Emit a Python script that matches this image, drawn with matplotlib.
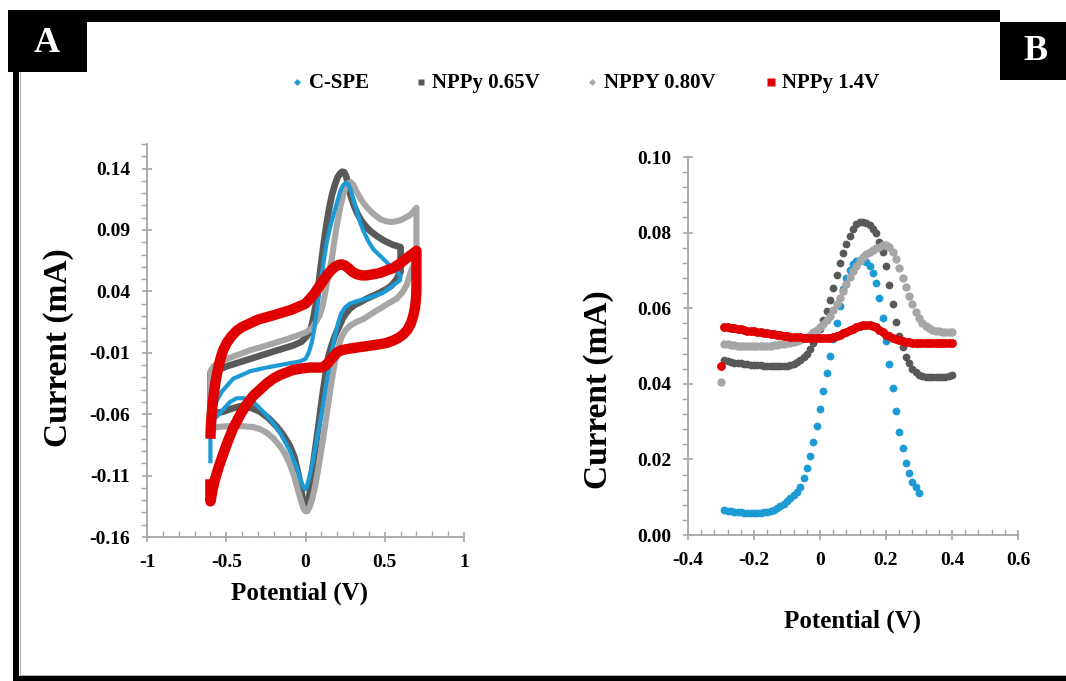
import matplotlib
matplotlib.use("Agg")
import matplotlib.pyplot as plt
from matplotlib.patches import Rectangle
from matplotlib.lines import Line2D

# ---------------- data ----------------
series_names = ["C-SPE", "NPPy 0.65V", "NPPY 0.80V", "NPPy 1.4V"]
series_colors = ["#1b9ad6", "#595959", "#a6a6a6", "#e00000"]

# Panel A: cyclic voltammograms (potential V, current mA)
cv_cspe_x = [-0.60, -0.60, -0.594, -0.58, -0.56, -0.53, -0.49, -0.455, -0.40, -0.35, -0.245, -0.119,
             -0.035, 0.0, 0.02, 0.039, 0.055, 0.070, 0.086, 0.102, 0.118, 0.134, 0.155, 0.176, 0.198,
             0.218, 0.235, 0.25, 0.265, 0.281, 0.30, 0.323, 0.345, 0.37, 0.40, 0.43, 0.47, 0.51, 0.555,
             0.60,
             0.596, 0.554, 0.491, 0.407, 0.323, 0.280, 0.250, 0.225, 0.205, 0.186, 0.168, 0.150, 0.128,
             0.106, 0.084, 0.064, 0.043, 0.024, 0.010, 0.002, -0.010, -0.024, -0.040, -0.056, -0.077,
             -0.098, -0.140, -0.161, -0.20, -0.245, -0.29, -0.329, -0.36, -0.392, -0.434, -0.476,
             -0.518, -0.56, -0.592, -0.60]
cv_cspe_y = [-0.100, -0.081, -0.066, -0.056, -0.049, -0.042, -0.036, -0.031, -0.028, -0.025, -0.022,
             -0.019, -0.017, -0.015, -0.010, -0.002, 0.009, 0.023, 0.038, 0.053, 0.067, 0.080, 0.092,
             0.102, 0.112, 0.121, 0.126, 0.128, 0.128, 0.124, 0.116, 0.106, 0.096, 0.088, 0.080, 0.074,
             0.069, 0.064, 0.058, 0.053,
             0.049, 0.045, 0.039, 0.035, 0.032, 0.030, 0.027, 0.022, 0.014, 0.004, -0.008, -0.021,
             -0.038, -0.056, -0.072, -0.086, -0.100, -0.111, -0.118, -0.121, -0.120, -0.116, -0.110,
             -0.103, -0.097, -0.090, -0.080, -0.075, -0.068, -0.061, -0.055, -0.050, -0.048, -0.047,
             -0.047, -0.050, -0.056, -0.062, -0.066, -0.068]

cv_065_x = [-0.60, -0.60, -0.582, -0.497, -0.35, -0.203, -0.077, -0.025, 0.005, 0.025, 0.039, 0.052,
            0.066, 0.078, 0.091, 0.104, 0.117, 0.133, 0.150, 0.168, 0.186, 0.203, 0.218, 0.232, 0.245,
            0.258, 0.272, 0.287, 0.305, 0.325, 0.350, 0.38, 0.41, 0.45, 0.50, 0.55, 0.60,
            0.60, 0.575, 0.545, 0.512, 0.470, 0.428, 0.385, 0.344, 0.310, 0.281, 0.255, 0.235, 0.218,
            0.200, 0.186, 0.165, 0.144, 0.128, 0.112, 0.096, 0.081, 0.065, 0.049, 0.036, 0.024, 0.012,
            0.003, -0.010, -0.020, -0.035, -0.05, -0.070, -0.098, -0.140, -0.182, -0.235, -0.287,
            -0.340, -0.392, -0.455, -0.520, -0.560, -0.592, -0.60]
cv_065_y = [-0.055, -0.027, -0.026, -0.021, -0.015, -0.009, -0.004, -0.001, 0.003, 0.007, 0.012, 0.020,
            0.030, 0.041, 0.055, 0.068, 0.081, 0.095, 0.108, 0.119, 0.127, 0.133, 0.136, 0.1375, 0.137,
            0.133, 0.125, 0.117, 0.110, 0.104, 0.098, 0.093, 0.089, 0.085, 0.081, 0.078, 0.076,
            0.056, 0.050, 0.045, 0.042, 0.039, 0.0365, 0.034, 0.031, 0.029, 0.026, 0.022, 0.018, 0.013,
            0.008, 0.004, -0.004, -0.013, -0.026, -0.040, -0.055, -0.070, -0.085, -0.100, -0.114,
            -0.127, -0.134, -0.136, -0.133, -0.127, -0.115, -0.106, -0.095, -0.086, -0.077, -0.070,
            -0.063, -0.058, -0.055, -0.053, -0.055, -0.058, -0.059, -0.056, -0.055]

cv_080_x = [-0.60, -0.60, -0.58, -0.55, -0.455, -0.35, -0.245, -0.12, -0.03, 0.007, 0.04, 0.065, 0.091,
            0.108, 0.12, 0.134, 0.150, 0.165, 0.181, 0.197, 0.218, 0.239, 0.255, 0.270, 0.285, 0.300,
            0.323, 0.345, 0.365, 0.39, 0.42, 0.470, 0.51, 0.54, 0.57, 0.60, 0.63, 0.659, 0.68, 0.700,
            0.700, 0.685, 0.670, 0.655, 0.638, 0.61, 0.575, 0.52, 0.470, 0.42, 0.365, 0.32, 0.281,
            0.25, 0.225, 0.205, 0.185, 0.165, 0.145, 0.125, 0.105, 0.085, 0.065, 0.045, 0.028, 0.012,
            0.0, -0.012, -0.025, -0.045, -0.07, -0.098, -0.13, -0.161, -0.20, -0.245, -0.29, -0.329,
            -0.40, -0.455, -0.52, -0.582, -0.60]
cv_080_y = [-0.070, -0.025, -0.021, -0.018, -0.013, -0.008, -0.004, 0.001, 0.005, 0.007, 0.010, 0.015,
            0.021, 0.028, 0.036, 0.046, 0.056, 0.066, 0.080, 0.093, 0.108, 0.119, 0.125, 0.128, 0.129,
            0.127, 0.121, 0.116, 0.112, 0.108, 0.104, 0.099, 0.097, 0.0965, 0.097, 0.098, 0.100, 0.102,
            0.105, 0.108,
            0.066, 0.062, 0.058, 0.052, 0.045, 0.039, 0.034, 0.030, 0.026, 0.022, 0.0175, 0.015, 0.012,
            0.008, 0.002, -0.006, -0.018, -0.033, -0.050, -0.068, -0.085, -0.101, -0.116, -0.128,
            -0.135, -0.139, -0.139, -0.137, -0.132, -0.123, -0.111, -0.101, -0.092, -0.086, -0.080,
            -0.075, -0.072, -0.0705, -0.0697, -0.0697, -0.070, -0.071, -0.070]

cv_14_x = [-0.60, -0.597, -0.592, -0.586, -0.578, -0.568, -0.555, -0.539, -0.52, -0.497, -0.47, -0.434,
           -0.40, -0.350, -0.30, -0.245, -0.19, -0.140, -0.09, -0.035, 0.0, 0.028, 0.055, 0.081, 0.108,
           0.134, 0.160, 0.186, 0.207, 0.228, 0.250, 0.270, 0.295, 0.323, 0.355, 0.386, 0.43, 0.470,
           0.51, 0.554, 0.60, 0.638, 0.67, 0.700,
           0.700, 0.697, 0.691, 0.680, 0.665, 0.645, 0.617, 0.585, 0.554, 0.51, 0.470, 0.42, 0.365,
           0.31, 0.260, 0.225, 0.197, 0.17, 0.144, 0.12, 0.102, 0.06, 0.028, -0.035, -0.08, -0.119,
           -0.16, -0.203, -0.245, -0.287, -0.33, -0.371, -0.41, -0.455, -0.49, -0.518, -0.545, -0.571,
           -0.587, -0.596, -0.60, -0.60]
cv_14_y = [-0.080, -0.070, -0.060, -0.052, -0.043, -0.034, -0.025, -0.016, -0.008, -0.002, 0.003, 0.008,
           0.011, 0.014, 0.017, 0.019, 0.021, 0.023, 0.025, 0.028, 0.030, 0.034, 0.038, 0.043, 0.048,
           0.053, 0.057, 0.060, 0.0615, 0.062, 0.061, 0.059, 0.056, 0.054, 0.053, 0.053, 0.054, 0.055,
           0.057, 0.059, 0.063, 0.067, 0.070, 0.073,
           0.042, 0.034, 0.027, 0.020, 0.014, 0.009, 0.005, 0.002, 0.000, -0.002, -0.003, -0.004,
           -0.005, -0.006, -0.007, -0.008, -0.010, -0.014, -0.018, -0.021, -0.022, -0.022, -0.022,
           -0.023, -0.024, -0.026, -0.028, -0.031, -0.035, -0.040, -0.045, -0.052, -0.060, -0.071,
           -0.082, -0.092, -0.102, -0.113, -0.122, -0.129, -0.131, -0.113]

# Panel B: differential pulse voltammograms
dpv_potential = [-0.30, -0.29, -0.28, -0.27, -0.26, -0.25, -0.24, -0.23, -0.22, -0.21, -0.20,
                 -0.19, -0.18, -0.17, -0.16, -0.15, -0.14, -0.13, -0.12, -0.11, -0.10,
                 -0.09, -0.08, -0.07, -0.06, -0.05, -0.04, -0.03, -0.02, -0.01, 0.00,
                 0.01, 0.02, 0.03, 0.04, 0.05, 0.06, 0.07, 0.08, 0.09, 0.10,
                 0.11, 0.12, 0.13, 0.14, 0.15, 0.16, 0.17, 0.18, 0.19, 0.20,
                 0.21, 0.22, 0.23, 0.24, 0.25, 0.26, 0.27, 0.28, 0.29, 0.30,
                 0.31, 0.32, 0.33, 0.34, 0.35, 0.36, 0.37, 0.38, 0.39, 0.40]

# C-SPE: -0.29 .. 0.30
dpv_cspe = [0.0066, 0.0064, 0.0063, 0.0062, 0.0061, 0.0060, 0.0059, 0.0058, 0.0058, 0.0058,
            0.0058, 0.0059, 0.0060, 0.0062, 0.0064, 0.0067, 0.0071, 0.0076, 0.0083, 0.0090,
            0.0098, 0.0106, 0.0115, 0.0128, 0.0150, 0.0176, 0.0210, 0.0245, 0.0288, 0.0333,
            0.0381, 0.0429, 0.0474, 0.0518, 0.0562, 0.0606, 0.0650, 0.0680, 0.0700, 0.0717,
            0.0725, 0.0728, 0.0727, 0.0723, 0.0711, 0.0692, 0.0666, 0.0626, 0.0574, 0.0513,
            0.0452, 0.0390, 0.0328, 0.0273, 0.0229, 0.0191, 0.0163, 0.0141, 0.0126, 0.0110]

# NPPy 0.65V: -0.29 .. 0.40
dpv_065 = [0.0463, 0.0460, 0.0458, 0.0456, 0.0455, 0.0454, 0.0453, 0.0452, 0.0451, 0.0450,
           0.0450, 0.0449, 0.0448, 0.0448, 0.0447, 0.0447, 0.0446, 0.0446, 0.0446, 0.0447,
           0.0449, 0.0452, 0.0457, 0.0464, 0.0472, 0.0480, 0.0492, 0.0507, 0.0524, 0.0545,
           0.0568, 0.0593, 0.0622, 0.0654, 0.0688, 0.0719, 0.0745, 0.0769, 0.0791, 0.0810,
           0.0822, 0.0828, 0.0829, 0.0826, 0.0820, 0.0810, 0.0798, 0.0776, 0.0749, 0.0712,
           0.0661, 0.0610, 0.0564, 0.0526, 0.0498, 0.0472, 0.0454, 0.0440, 0.0430, 0.0424,
           0.0420, 0.0418, 0.0417, 0.0417, 0.0417, 0.0417, 0.0418, 0.0419, 0.0420, 0.0422]

# NPPY 0.80V: -0.30 .. 0.40
dpv_080 = [0.0404, 0.0505, 0.0504, 0.0503, 0.0502, 0.0501, 0.0500, 0.0500, 0.0499, 0.0499, 0.0499,
           0.0499, 0.0499, 0.0500, 0.0500, 0.0501, 0.0502, 0.0503, 0.0504, 0.0506, 0.0507,
           0.0509, 0.0511, 0.0513, 0.0516, 0.0520, 0.0525, 0.0530, 0.0536, 0.0542, 0.0549,
           0.0558, 0.0568, 0.0580, 0.0595, 0.0610, 0.0626, 0.0645, 0.0665, 0.0683, 0.0698,
           0.0712, 0.0725, 0.0735, 0.0743, 0.0750, 0.0755, 0.0759, 0.0763, 0.0766, 0.0767,
           0.0762, 0.0750, 0.0730, 0.0706, 0.0681, 0.0655, 0.0631, 0.0610, 0.0591, 0.0574,
           0.0562, 0.0553, 0.0547, 0.0543, 0.0541, 0.0539, 0.0538, 0.0537, 0.0537, 0.0537]

# NPPy 1.4V: -0.30 .. 0.40
dpv_14 = [0.0447, 0.0551, 0.0550, 0.0548, 0.0547, 0.0545, 0.0544, 0.0543, 0.0541, 0.0540, 0.0539,
          0.0537, 0.0536, 0.0535, 0.0534, 0.0532, 0.0531, 0.0530, 0.0529, 0.0527, 0.0526,
          0.0525, 0.0524, 0.0523, 0.0523, 0.0522, 0.0521, 0.0521, 0.0520, 0.0520, 0.0520,
          0.0520, 0.0520, 0.0521, 0.0523, 0.0526, 0.0529, 0.0534, 0.0538, 0.0542, 0.0545,
          0.0549, 0.0552, 0.0555, 0.0556, 0.0555, 0.0553, 0.0549, 0.0543, 0.0536, 0.0530,
          0.0526, 0.0522, 0.0518, 0.0515, 0.0512, 0.0511, 0.0510, 0.0509, 0.0508, 0.0508,
          0.0507, 0.0507, 0.0507, 0.0507, 0.0507, 0.0507, 0.0507, 0.0507, 0.0507, 0.0507]

a_xticks = [-1, -0.5, 0, 0.5, 1]
a_xticklabels = ["-1", "-0.5", "0", "0.5", "1"]
a_yticks = [-0.16, -0.11, -0.06, -0.01, 0.04, 0.09, 0.14]
a_yticklabels = ["-0.16", "-0.11", "-0.06", "-0.01", "0.04", "0.09", "0.14"]
b_xticks = [-0.4, -0.2, 0, 0.2, 0.4, 0.6]
b_xticklabels = ["-0.4", "-0.2", "0", "0.2", "0.4", "0.6"]
b_yticks = [0.00, 0.02, 0.04, 0.06, 0.08, 0.10]
b_yticklabels = ["0.00", "0.02", "0.04", "0.06", "0.08", "0.10"]

# ---------------- figure ----------------
plt.rcParams['font.family'] = ['Liberation Serif', 'DejaVu Serif']
plt.rcParams['font.weight'] = 'bold'

W, H = 1066, 681
fig = plt.figure(figsize=(W / 100, H / 100), dpi=100)
fig.patch.set_facecolor('white')


def fx(px):
    return px / W


def fy(py):
    return 1 - py / H


def rect(x0, y0, x1, y1, color='black', z=0):
    fig.add_artist(Rectangle((fx(x0), fy(y1)), (x1 - x0) / W, (y1 - y0) / H,
                             transform=fig.transFigure, facecolor=color, edgecolor='none', zorder=z))


# frame
rect(87, 10, 1000, 22)
rect(8, 10, 87, 72)
rect(13, 72, 19, 681)
rect(13, 676, 1066, 681)
rect(1000, 22, 1066, 80)
rect(20, 72, 21, 676, color='#b0b0b0')
rect(21, 675, 1066, 676, color='#b0b0b0')
fig.text(fx(47), fy(44), "A", color='white', fontsize=26, fontweight='bold', ha='center', va='center')
fig.text(fx(1036), fy(51), "B", color='white', fontsize=26, fontweight='bold', ha='center', va='center')

axA = fig.add_axes([fx(147), fy(537), (464 - 147) / W, (537 - 144) / H])
axB = fig.add_axes([fx(688), fy(535), (1018 - 688) / W, (535 - 157) / H])

gray_axis = '#a6a6a6'


def style_axis(ax):
    for s in ['top', 'right']:
        ax.spines[s].set_visible(False)
    for s in ['left', 'bottom']:
        ax.spines[s].set_color(gray_axis)
        ax.spines[s].set_linewidth(1.3)
    ax.tick_params(which='major', direction='inout', length=7, width=1.2, color=gray_axis,
                   labelsize=14, pad=8.5)
    ax.tick_params(axis='y', which='minor', direction='out', length=4, width=1.0, color=gray_axis)
    ax.tick_params(axis='x', which='minor', direction='in', length=4, width=1.0, color=gray_axis)
    ax.set_facecolor('none')


# Panel A
cv_x = [cv_065_x, cv_080_x, cv_cspe_x, cv_14_x]
cv_y = [cv_065_y, cv_080_y, cv_cspe_y, cv_14_y]
cv_col = [series_colors[1], series_colors[2], series_colors[0], series_colors[3]]
cv_lw = [4.8, 4.4, 3.0, 7.5]
for xs, ys, c, lw in zip(cv_x, cv_y, cv_col, cv_lw):
    axA.plot(xs, ys, color=c, lw=lw, solid_joinstyle='round', solid_capstyle='butt')
axA.set_xlim(-1, 1)
axA.set_ylim(-0.16, 0.16)
axA.set_xticks(a_xticks)
axA.set_xticklabels(a_xticklabels)
axA.set_yticks(a_yticks)
axA.set_yticklabels(a_yticklabels)
axA.set_xticks([v / 10 for v in range(-10, 11)], minor=True)
axA.set_yticks([v / 100 for v in range(-16, 17)], minor=True)
style_axis(axA)
for lab in axA.get_xticklabels() + axA.get_yticklabels():
    lab.set_fontweight('bold')

# Panel B
axB.plot(dpv_potential[1:61], dpv_cspe, 'o', color=series_colors[0], ms=5.6, mec='none')
axB.plot(dpv_potential[1:], dpv_065, 'o', color=series_colors[1], ms=5.6, mec='none')
axB.plot(dpv_potential, dpv_080, 'o', color=series_colors[2], ms=6.0, mec='none')
axB.plot(dpv_potential, dpv_14, 'o', color=series_colors[3], ms=6.4, mec='none')
axB.set_xlim(-0.4, 0.6)
axB.set_ylim(0.0, 0.10)
axB.set_xticks(b_xticks)
axB.set_xticklabels(b_xticklabels)
axB.set_yticks(b_yticks)
axB.set_yticklabels(b_yticklabels)
axB.set_xticks([-0.4 + 0.04 * i for i in range(26)], minor=True)
axB.set_yticks([0.004 * i for i in range(26)], minor=True)
style_axis(axB)
for lab in axB.get_xticklabels() + axB.get_yticklabels():
    lab.set_fontweight('bold')

# axis titles
fig.text(fx(58), fy(348), "Current (mA)", rotation=90, fontsize=24, fontweight='bold',
         ha='center', va='center')
fig.text(fx(299), fy(593), "Potential (V)", fontsize=18, fontweight='bold', ha='center', va='center')
fig.text(fx(599), fy(390), "Current (mA)", rotation=90, fontsize=24, fontweight='bold',
         ha='center', va='center')
fig.text(fx(853), fy(621), "Potential (V)", fontsize=18, fontweight='bold', ha='center', va='center')

# legend (manual)
leg_marker_x = [297, 421, 592, 771]
leg_text_x = [309, 432, 604, 782]
leg_markers = ['D', 's', 'D', 's']
leg_ms = [3.5, 4.5, 3.5, 5.5]
for name, c, mx, tx, mk, ms in zip(series_names, series_colors, leg_marker_x, leg_text_x,
                                   leg_markers, leg_ms):
    fig.add_artist(Line2D([fx(mx)], [fy(82)], transform=fig.transFigure, marker=mk, ms=ms,
                          color=c, mec='none', ls='none'))
    fig.text(fx(tx), fy(83), name, fontsize=15, fontweight='bold', ha='left', va='center')

fig.savefig("out.png", dpi=100)
